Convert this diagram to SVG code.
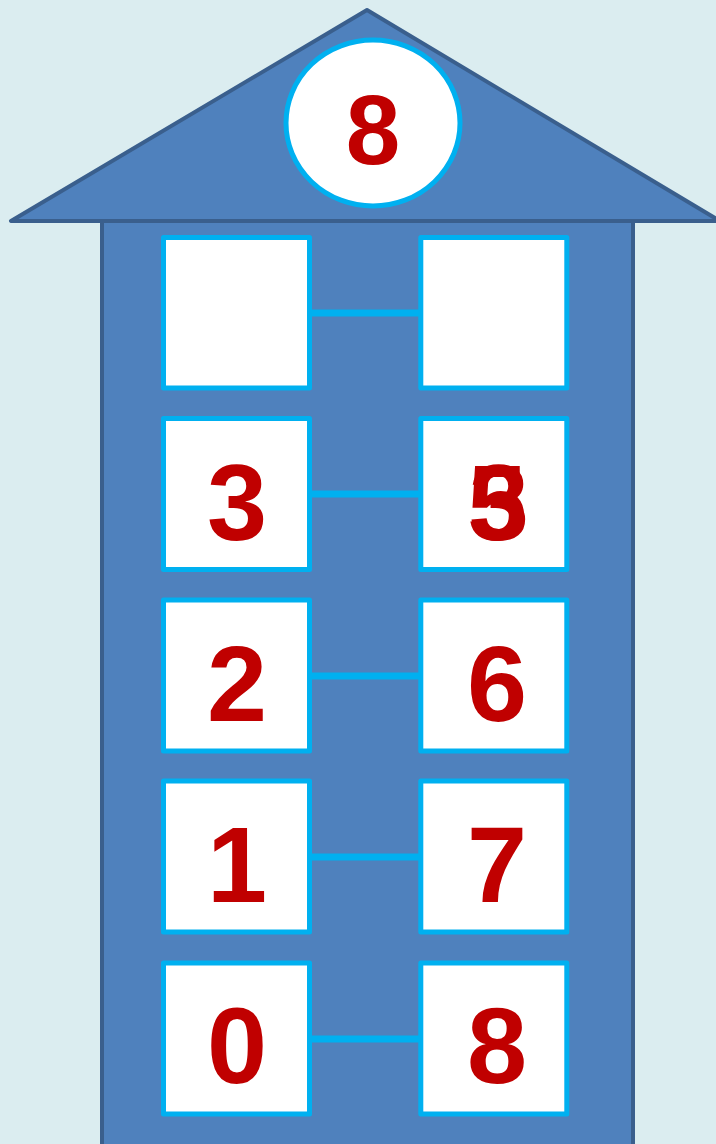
<svg xmlns="http://www.w3.org/2000/svg" width="716" height="1144" viewBox="0 0 716 1144">
<style>
.house{fill:#4f81bd;stroke:#3a5f8d;stroke-width:4;stroke-linejoin:round}
.box{fill:#ffffff;stroke:#00b0f0;stroke-width:5;stroke-linejoin:round}
.link{stroke:#00b0f0;stroke-width:7;fill:none}
.num{font-family:"Liberation Sans",Arial,sans-serif;font-weight:bold;font-size:108px;fill:#c00000;text-anchor:middle}
</style>
<rect x="0" y="0" width="716" height="1144" fill="#dbedf0"/>
<g id="house">
<rect class="house" x="102" y="221" width="531" height="930"/>
<polygon class="house" points="367,10 11,221 720,221"/>
</g>
<g id="connectors">
<line class="link" x1="310" y1="313" x2="421" y2="313"/>
<line class="link" x1="310" y1="494" x2="424" y2="494"/>
<line class="link" x1="310" y1="676" x2="424" y2="676"/>
<line class="link" x1="310" y1="857" x2="424" y2="857"/>
<line class="link" x1="310" y1="1039" x2="424" y2="1039"/>
</g>
<g id="top">
<ellipse cx="373" cy="123" rx="87" ry="83" fill="#ffffff" stroke="#00b0f0" stroke-width="5"/>
<text class="num" x="373" y="164" style="font-size:98px">8</text>
</g>
<g id="l1"><rect class="box" x="163.5" y="237.5" width="146" height="150.5"/></g>
<g id="r1"><rect class="box" x="420.8" y="237.5" width="146" height="150.5"/></g>
<g id="l2"><rect class="box" x="163.5" y="418.5" width="146" height="151"/><text class="num" x="237" y="540">3</text></g>
<g id="r2"><rect class="box" x="420.8" y="418.5" width="146" height="151"/><text class="num" x="497" y="540">5</text><text class="num" x="499" y="540">3</text></g>
<g id="l3"><rect class="box" x="163.5" y="600" width="146" height="151"/><text class="num" x="237" y="721">2</text></g>
<g id="r3"><rect class="box" x="420.8" y="600" width="146" height="151"/><text class="num" x="497" y="721">6</text></g>
<g id="l4"><rect class="box" x="163.5" y="781" width="146" height="151"/><text class="num" x="237" y="902">1</text></g>
<g id="r4"><rect class="box" x="420.8" y="781" width="146" height="151"/><text class="num" x="497" y="902">7</text></g>
<g id="l5"><rect class="box" x="163.5" y="963" width="146" height="151"/><text class="num" x="237" y="1083">0</text></g>
<g id="r5"><rect class="box" x="420.8" y="963" width="146" height="151"/><text class="num" x="497" y="1083">8</text></g>
</svg>
